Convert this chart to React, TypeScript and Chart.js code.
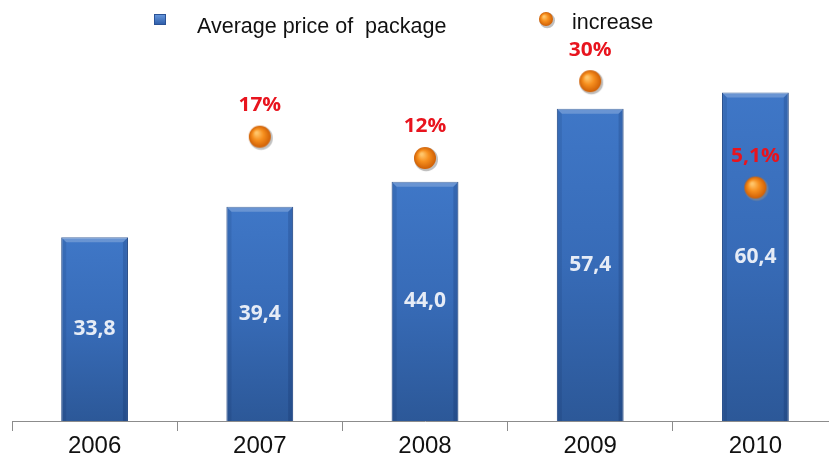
import React, { useEffect, useRef } from "react";
import { Chart, registerables } from "chart.js";

Chart.register(...registerables);

const categories = ["2006", "2007", "2008", "2009", "2010"];
const avgPrice = [33.8, 39.4, 44.0, 57.4, 60.4];
const increase = [null, 17, 12, 30, 5.1];
const priceLabels = ["33,8", "39,4", "44,0", "57,4", "60,4"];
const increaseLabels = ["", "17%", "12%", "30%", "5,1%"];
const legendLabels = ["Average price of  package", "increase"];

const W = 850;
const H = 459;

function makeBall(r: number): HTMLCanvasElement {
  const size = Math.ceil(r * 2 + 8);
  const c = document.createElement("canvas");
  c.width = size;
  c.height = size;
  const g = c.getContext("2d")!;
  const cx = size / 2;
  const cy = size / 2;
  g.beginPath();
  g.arc(cx + 1.2, cy + 1.4, r + 0.8, 0, Math.PI * 2);
  g.fillStyle = "rgba(140,140,140,0.55)";
  g.fill();
  const rg = g.createRadialGradient(cx - r * 0.3, cy - r * 0.35, r * 0.1, cx, cy, r);
  rg.addColorStop(0, "#ffc56a");
  rg.addColorStop(0.45, "#f7901f");
  rg.addColorStop(1, "#cf5f05");
  g.beginPath();
  g.arc(cx, cy, r, 0, Math.PI * 2);
  g.fillStyle = rg;
  g.fill();
  return c;
}

export default function App() {
  const ref = useRef<HTMLCanvasElement | null>(null);

  useEffect(() => {
    const canvas = ref.current;
    if (!canvas) return;
    const ball = makeBall(11);
    const legendBall = makeBall(7);

    const labelPlugin = {
      id: "labels",
      afterDatasetDraw(chart: any, args: any) {
        if (args.index !== 0) return;
        const ctx = chart.ctx;
        const meta = chart.getDatasetMeta(0);
        ctx.save();
        meta.data.forEach((bar: any) => {
          const { x, y, base, width } = bar.getProps(["x", "y", "base", "width"], true);
          const l = x - width / 2;
          const r = x + width / 2;
          const bev = 5;
          ctx.beginPath();
          ctx.moveTo(l, y);
          ctx.lineTo(r, y);
          ctx.lineTo(r - bev, y + bev);
          ctx.lineTo(l + bev, y + bev);
          ctx.closePath();
          ctx.fillStyle = "rgba(255,255,255,0.22)";
          ctx.fill();
          ctx.beginPath();
          ctx.moveTo(l, y);
          ctx.lineTo(l + bev, y + bev);
          ctx.lineTo(l + bev, base);
          ctx.lineTo(l, base);
          ctx.closePath();
          ctx.fillStyle = "rgba(0,20,60,0.10)";
          ctx.fill();
          ctx.beginPath();
          ctx.moveTo(r, y);
          ctx.lineTo(r - bev, y + bev);
          ctx.lineTo(r - bev, base);
          ctx.lineTo(r, base);
          ctx.closePath();
          ctx.fillStyle = "rgba(0,20,60,0.16)";
          ctx.fill();
        });
        ctx.restore();
      },
      afterDatasetsDraw(chart: any) {
        const ctx = chart.ctx;
        ctx.save();
        const barMeta = chart.getDatasetMeta(0);
        ctx.font = "bold 21px 'Open Sans', sans-serif";
        ctx.fillStyle = "#e6ecf6";
        ctx.textAlign = "center";
        ctx.textBaseline = "middle";
        barMeta.data.forEach((bar: any, i: number) => {
          const { x, y, base } = bar.getProps(["x", "y", "base"], true);
          ctx.fillText(priceLabels[i], x, (y + base) / 2);
        });
        const ptMeta = chart.getDatasetMeta(1);
        ctx.font = "bold 19px 'Open Sans', sans-serif";
        ctx.fillStyle = "#e8141e";
        ptMeta.data.forEach((pt: any, i: number) => {
          if (increase[i] == null) return;
          const { x, y } = pt.getProps(["x", "y"], true);
          ctx.save();
          ctx.translate(x, y - 31);
          ctx.scale(1.1, 1);
          ctx.fillText(increaseLabels[i], 0, 0);
          ctx.restore();
        });
        // legend
        const sx = 154, sy = 14, sw = 12, sh = 11;
        const lg = ctx.createLinearGradient(0, sy, 0, sy + sh);
        lg.addColorStop(0, "#6a9be0");
        lg.addColorStop(1, "#2a5aa6");
        ctx.fillStyle = lg;
        ctx.fillRect(sx, sy, sw, sh);
        ctx.strokeStyle = "#2a5296";
        ctx.lineWidth = 1;
        ctx.strokeRect(sx + 0.5, sy + 0.5, sw - 1, sh - 1);
        ctx.font = "21.5px 'Liberation Sans', Arial, sans-serif";
        ctx.fillStyle = "#111111";
        ctx.textAlign = "left";
        ctx.textBaseline = "alphabetic";
        ctx.fillText(legendLabels[0], 197, 32.5);
        ctx.drawImage(legendBall, 546 - legendBall.width / 2, 19 - legendBall.height / 2);
        ctx.fillText(legendLabels[1], 572, 29);
        ctx.restore();
      },
    };

    const barColor = (c: any) => {
      const chart = c.chart;
      const ys = chart.scales && chart.scales.y;
      if (!ys || c.raw == null || !isFinite(ys.getPixelForValue(0))) return "#3a6dbb";
      const top = ys.getPixelForValue(c.raw);
      const bottom = ys.getPixelForValue(0);
      const g = chart.ctx.createLinearGradient(0, top, 0, bottom);
      g.addColorStop(0, "#3f77c7");
      g.addColorStop(0.5, "#376bb7");
      g.addColorStop(1, "#2c5898");
      return g;
    };

    const chart = new Chart(canvas, {
      data: {
        labels: categories,
        datasets: [
          {
            type: "bar",
            label: legendLabels[0],
            data: avgPrice,
            yAxisID: "y",
            backgroundColor: barColor,
            borderColor: "#2b5494",
            borderWidth: 1,
            barPercentage: 0.404,
            categoryPercentage: 1,
            order: 1,
          },
          {
            type: "line",
            label: legendLabels[1],
            data: increase,
            yAxisID: "y1",
            showLine: false,
            pointStyle: ball as any,
            pointRadius: 11,
            pointHoverRadius: 11,
            order: 0,
          },
        ],
      } as any,
      options: {
        responsive: false,
        animation: false,
        events: [],
        layout: { padding: { left: 9, right: 5, top: 40.2, bottom: 0 } },
        plugins: {
          legend: { display: false },
          tooltip: { enabled: false },
        },
        scales: {
          x: {
            offset: true,
            grid: {
              offset: true,
              drawOnChartArea: false,
              drawTicks: true,
              tickLength: 10,
              color: "#8c8c8c",
            },
            border: { display: true, color: "#8c8c8c", width: 1 },
            ticks: {
              color: "#111111",
              padding: 1,
              font: { family: "'Liberation Sans', Arial, sans-serif", size: 24 },
            },
            afterFit: (s: any) => {
              s.height = 38;
            },
          },
          y: {
            display: false,
            min: 0,
            max: 70,
          },
          y1: {
            display: false,
            position: "right",
            min: -49.55,
            max: 39.58,
          },
        },
      } as any,
      plugins: [labelPlugin],
    });

    return () => {
      chart.destroy();
    };
  }, []);

  return (
    <div
      style={{
        position: "fixed",
        left: 0,
        top: 0,
        width: 829,
        height: 459,
        overflow: "hidden",
        background: "#ffffff",
      }}
    >
      <canvas
        ref={ref}
        width={W}
        height={H}
        style={{ display: "block", width: W, height: H }}
      />
    </div>
  );
}
